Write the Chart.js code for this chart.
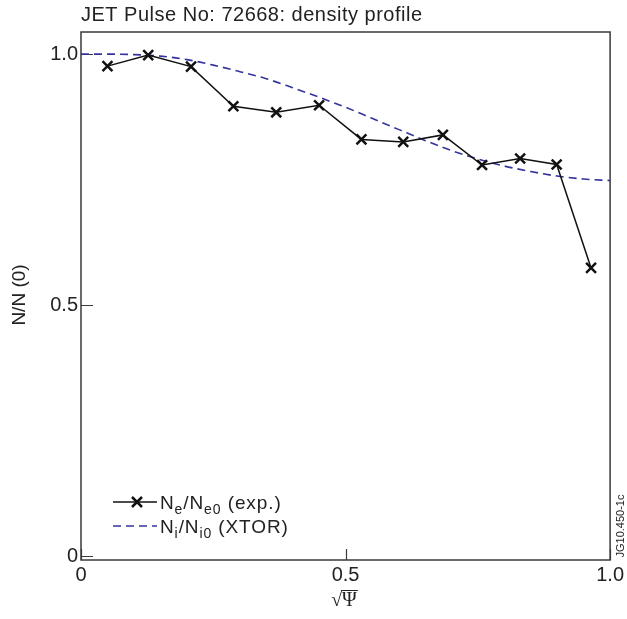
<!DOCTYPE html>
<html>
<head>
<meta charset="utf-8">
<script src="https://cdn.jsdelivr.net/npm/chart.js@4/dist/chart.umd.min.js"></script>
<style>
  body { margin: 0; background: #fff; }
  canvas { display: block; }
</style>
</head>
<body>
<canvas id="chart" width="627" height="619"></canvas>
<script>
// measured profile (crosses)
const expPsi = [0.050, 0.127, 0.208, 0.288, 0.369, 0.450, 0.530, 0.609, 0.684, 0.758, 0.830, 0.899, 0.964];
const expDensity = [0.976, 0.998, 0.975, 0.896, 0.884, 0.898, 0.830, 0.825, 0.839, 0.779, 0.792, 0.780, 0.574];

// XTOR ion density (dashed)
const xtorPsi = [0, 0.05, 0.10, 0.15, 0.20, 0.25, 0.30, 0.35, 0.40, 0.45, 0.50, 0.55, 0.60, 0.65, 0.70, 0.75, 0.80, 0.85, 0.90, 0.95, 1.00];
const xtorDensity = [1.000, 1.000, 0.999, 0.996, 0.989, 0.978, 0.965, 0.951, 0.933, 0.914, 0.894, 0.872, 0.850, 0.828, 0.808, 0.791, 0.777, 0.766, 0.757, 0.751, 0.748];

const xTicks = [0, 0.5, 1.0];
const xTickLabels = ["0", "0.5", "1.0"];
const yTicks = [0, 0.5, 1.0];
const yTickLabels = ["0", "0.5", "1.0"];

const titleText = "JET Pulse No: 72668: density profile";
const yTitle = "N/N (0)";
const figId = "JG10.450-1c";

const SANS = "'Liberation Sans', Arial, sans-serif";
const blue = "#34349c";

function drawRuns(ctx, x, y, runs, size) {
  // draws text pieces with subscripts, baseline at y
  for (const r of runs) {
    ctx.font = (r.sub ? Math.round(size * 0.75) : size) + "px " + SANS;
    ctx.fillText(r.t, x, r.sub ? y + 5 : y);
    x += ctx.measureText(r.t).width;
  }
}

function drawX(ctx, x, y, r) {
  ctx.beginPath();
  ctx.moveTo(x - r, y - r); ctx.lineTo(x + r, y + r);
  ctx.moveTo(x - r, y + r); ctx.lineTo(x + r, y - r);
  ctx.stroke();
}

const decorations = {
  id: "decorations",
  beforeDatasetsDraw(chart) {
    const { ctx, chartArea: a, scales } = chart;
    ctx.save();
    // frame
    ctx.strokeStyle = "#3a3a3a";
    ctx.lineWidth = 1.5;
    ctx.strokeRect(a.left, a.top, a.right - a.left, a.bottom - a.top);
    // inward tick marks
    ctx.beginPath();
    yTicks.forEach(v => {
      const py = Math.round(scales.y.getPixelForValue(v)) + 0.5;
      ctx.moveTo(a.left, py); ctx.lineTo(a.left + 12, py);
    });
    xTicks.forEach(v => {
      const px = Math.round(scales.x.getPixelForValue(v)) + 0.5;
      ctx.moveTo(px, a.bottom); ctx.lineTo(px, a.bottom - 11);
    });
    ctx.lineWidth = 1.2;
    ctx.stroke();
    ctx.restore();
  },
  afterDraw(chart) {
    const { ctx, chartArea: a } = chart;
    ctx.save();
    ctx.fillStyle = "#222";
    // title
    ctx.font = "20px " + SANS;
    ctx.letterSpacing = "0.5px";
    ctx.textBaseline = "alphabetic";
    ctx.textAlign = "left";
    ctx.fillText(titleText, a.left, 21);
    ctx.letterSpacing = "0px";

    // y axis title
    ctx.save();
    ctx.translate(25, 295);
    ctx.rotate(-Math.PI / 2);
    ctx.textAlign = "center";
    ctx.font = "19px " + SANS;
    ctx.fillText(yTitle, 0, 0);
    ctx.restore();

    // x axis title: sqrt(psi)
    ctx.font = "20px 'Liberation Serif', serif";
    ctx.textAlign = "left";
    const sq = "\u221A", psi = "\u03A8";
    const w1 = ctx.measureText(sq).width, w2 = ctx.measureText(psi).width;
    const x0 = 344 - (w1 + w2) / 2;
    ctx.fillText(sq, x0, 606);
    ctx.fillText(psi, x0 + w1, 606);
    ctx.strokeStyle = "#222";
    ctx.lineWidth = 1;
    ctx.beginPath();
    ctx.moveTo(x0 + w1 - 1, 590.5); ctx.lineTo(x0 + w1 + w2 + 1, 590.5);
    ctx.stroke();

    // legend
    ctx.strokeStyle = "#111";
    ctx.lineWidth = 1.5;
    ctx.beginPath();
    ctx.moveTo(113, 502); ctx.lineTo(157, 502);
    ctx.stroke();
    ctx.lineWidth = 2.5;
    drawX(ctx, 137, 502, 5);
    ctx.strokeStyle = blue;
    ctx.lineWidth = 1.6;
    ctx.setLineDash([8, 5]);
    ctx.beginPath();
    ctx.moveTo(113, 526); ctx.lineTo(157, 526);
    ctx.stroke();
    ctx.setLineDash([]);
    ctx.fillStyle = "#222";
    ctx.letterSpacing = "0.9px";
    drawRuns(ctx, 160, 509, [{ t: "N" }, { t: "e", sub: true }, { t: "/N" }, { t: "e0", sub: true }, { t: " (exp.)" }], 19);
    drawRuns(ctx, 160, 533, [{ t: "N" }, { t: "i", sub: true }, { t: "/N" }, { t: "i0", sub: true }, { t: " (XTOR)" }], 19);
    ctx.letterSpacing = "0px";

    // figure id
    ctx.save();
    ctx.translate(624, 526);
    ctx.rotate(-Math.PI / 2);
    ctx.textAlign = "center";
    ctx.font = "11px " + SANS;
    ctx.fillText(figId, 0, 0);
    ctx.restore();
    ctx.restore();
  }
};

new Chart(document.getElementById("chart"), {
  type: "line",
  data: {
    datasets: [
      {
        label: "Ne/Ne0 (exp.)",
        data: expPsi.map((x, i) => ({ x, y: expDensity[i] })),
        borderColor: "#111",
        borderWidth: 1.5,
        pointStyle: "crossRot",
        pointRadius: 7,
        pointBorderWidth: 2.5,
        pointBorderColor: "#111",
        fill: false,
        tension: 0
      },
      {
        label: "Ni/Ni0 (XTOR)",
        data: xtorPsi.map((x, i) => ({ x, y: xtorDensity[i] })),
        borderColor: blue,
        borderWidth: 1.6,
        borderDash: [8, 5],
        pointRadius: 0,
        fill: false,
        cubicInterpolationMode: "monotone"
      }
    ]
  },
  options: {
    responsive: false,
    devicePixelRatio: 1,
    animation: false,
    layout: { padding: { top: 32, right: 16, bottom: 0, left: 0 } },
    plugins: { legend: { display: false }, title: { display: false }, tooltip: { enabled: false } },
    scales: {
      x: {
        type: "linear",
        min: 0,
        max: 1,
        afterFit: s => { s.height = 59; },
        afterBuildTicks: s => { s.ticks = xTicks.map(v => ({ value: v })); },
        grid: { display: false, drawTicks: false },
        border: { display: false },
        ticks: {
          autoSkip: false,
          maxRotation: 0,
          padding: 3,
          color: "#222",
          font: { family: SANS, size: 20 },
          callback: (v, i) => xTickLabels[i]
        }
      },
      y: {
        type: "linear",
        min: -0.008,
        max: 1.044,
        afterFit: s => { s.width = 81; },
        afterBuildTicks: s => { s.ticks = yTicks.map(v => ({ value: v })); },
        grid: { display: false, drawTicks: false },
        border: { display: false },
        ticks: {
          autoSkip: false,
          padding: 3,
          color: "#222",
          font: { family: SANS, size: 20 },
          callback: (v, i) => yTickLabels[i]
        }
      }
    }
  },
  plugins: [decorations]
});
</script>
</body>
</html>
